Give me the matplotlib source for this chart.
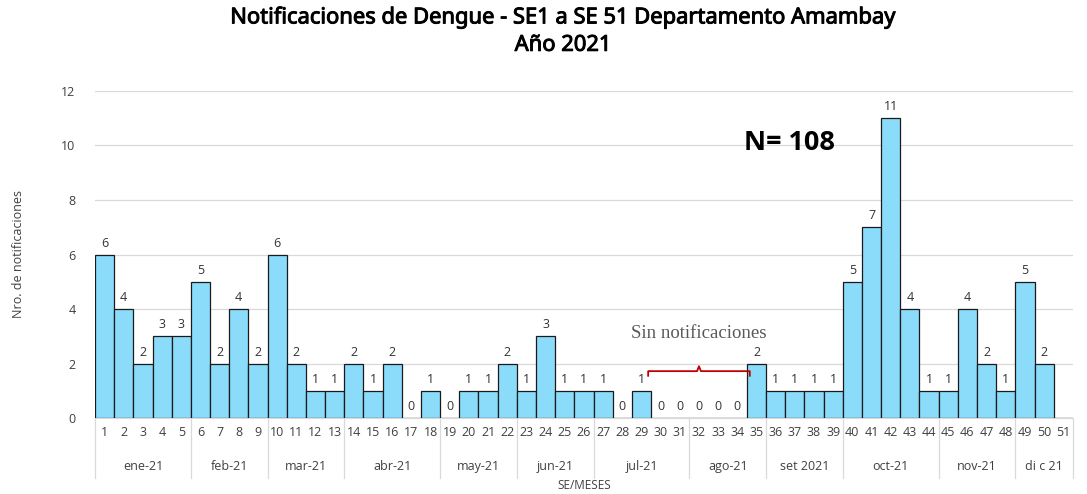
import matplotlib
matplotlib.use("Agg")
import matplotlib.pyplot as plt
import matplotlib.transforms as mtransforms
import matplotlib.patheffects as pe
import numpy as np

plt.rcParams['font.family'] = ['Open Sans', 'DejaVu Sans']

# data
weeks = list(range(1, 52))
cases = [6, 4, 2, 3, 3, 5, 2, 4, 2, 6, 2, 1, 1, 2, 1, 2, 0, 1, 0, 1,
         1, 2, 1, 3, 1, 1, 1, 0, 1, 0, 0, 0, 0, 0, 2, 1, 1, 1, 1, 5,
         7, 11, 4, 1, 1, 4, 2, 1, 5, 2, None]
months = ["ene-21", "feb-21", "mar-21", "abr-21", "may-21", "jun-21",
          "jul-21", "ago-21", "set 2021", "oct-21", "nov-21", "di c 21"]
month_weeks = [5, 4, 4, 5, 4, 4, 5, 4, 4, 5, 4, 3]
total_label = "N= 108"

fig = plt.figure(figsize=(10.87, 4.94), dpi=100)
ax = fig.add_axes([0.0874, 0.1538, 0.8996, 0.662])

x = np.array(weeks)
y = np.array([np.nan if v is None else v for v in cases], dtype=float)
ax.bar(x, np.nan_to_num(y), width=1.0, color="#8bdcfb", edgecolor="#1a1a1a", linewidth=0.9, zorder=3)

for xi, v in zip(x, cases):
    if v is None:
        continue
    ax.text(xi, v + 0.18, str(v), ha="center", va="bottom", fontsize=9, color="#333333", zorder=4)

ax.set_xlim(0.5, 51.5)
ax.set_ylim(0, 12)
ax.set_yticks(range(0, 13, 2))
ax.tick_params(axis="y", length=0, labelsize=9, colors="#404040", pad=14)
ax.set_xticks(x)
ax.set_xticklabels([str(w) for w in weeks], fontsize=9, color="#404040")
ax.tick_params(axis="x", length=0, pad=6)
ax.grid(axis="y", color="#d9d9d9", linewidth=0.9, zorder=0)
for s in ["top", "right", "left"]:
    ax.spines[s].set_visible(False)
ax.spines["bottom"].set_color("#d9d9d9")

# month groups below the weeks
trans = mtransforms.blended_transform_factory(ax.transData, ax.transAxes)
edges = np.concatenate([[0.5], 0.5 + np.cumsum(month_weeks)])
for e in edges:
    ax.plot([e, e], [0, -0.183], transform=trans, color="#d9d9d9", linewidth=0.9, clip_on=False)
for i, m in enumerate(months):
    mid = (edges[i] + edges[i + 1]) / 2
    ax.text(mid, -0.148, m, transform=trans, ha="center", va="center", fontsize=9, color="#404040")

ax.text(0.5, -0.206, "SE/MESES", transform=ax.transAxes, ha="center", va="center", fontsize=8.5, color="#404040")
fig.text(0.017, 0.485, "Nro. de notificaciones", rotation=90, ha="center", va="center", fontsize=9, color="#404040")

# semibold look: regular weight with a thin stroke
fig.text(0.518, 0.985, "Notificaciones de Dengue - SE1 a SE 51 Departamento Amambay\nAño 2021",
         ha="center", va="top", fontsize=15.8, family=["Noto Sans", "DejaVu Sans"],
         color="black", linespacing=1.4,
         path_effects=[pe.withStroke(linewidth=0.7, foreground="black")])

ax.text(36.7, 10.1, total_label, ha="center", va="center", fontsize=19.5, fontweight="bold", color="black", zorder=5)

# bracket over weeks without notifications
bx0, bx1, bmid = 29.35, 34.65, 32.0
ax.plot([bx0, bx0, bmid - 0.1, bmid, bmid + 0.1, bx1, bx1],
        [1.55, 1.72, 1.72, 1.9, 1.72, 1.72, 1.55], color="#c00000", linewidth=1.3, zorder=5)
ax.text(bmid, 3.1, "Sin notificaciones", ha="center", va="center", fontsize=13.5,
        family=["Liberation Serif", "DejaVu Serif"], color="#595959", zorder=5)

fig.savefig("out.png", dpi=100)
